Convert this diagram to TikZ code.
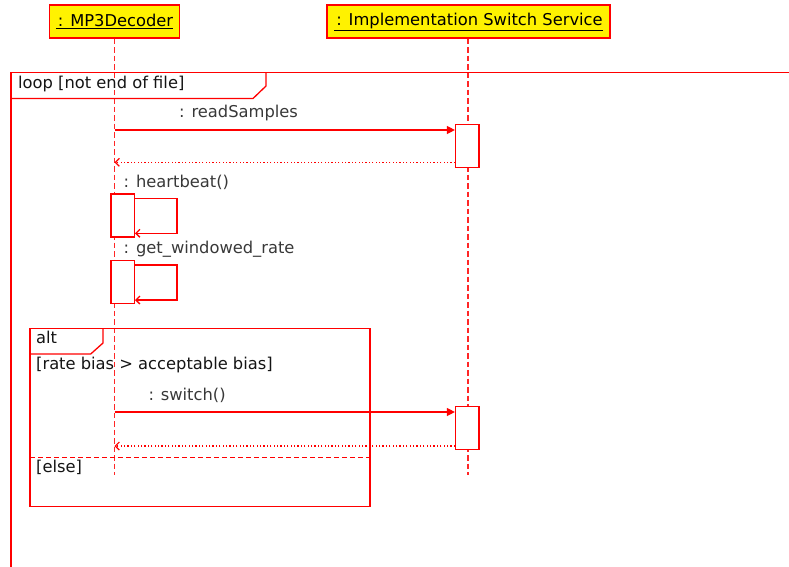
\documentclass[tikz,border=0pt]{standalone}
\usepackage{fontspec}
\setmainfont{DejaVu Sans}
\usetikzlibrary{arrows.meta}
\begin{document}
\begin{tikzpicture}[x=1pt,y=-1pt,
  font=\fontsize{16.3}{19}\selectfont,
  head/.style={draw=red, line width=1.4pt, fill=yellow, minimum height=33pt, inner sep=0pt, text=black},
  lifeline/.style={draw=red!85, line width=1.2pt, dash pattern=on 5.5pt off 3pt},
  act/.style={draw=red, fill=white, line width=1.3pt, minimum width=23.5pt, minimum height=43pt, inner sep=0pt},
  frame/.style={draw=red, line width=1.3pt},
  msg/.style={draw=red, line width=1.3pt, -{Triangle[length=8pt,width=8pt]}},
  reply/.style={draw=red, line width=1.2pt, dash pattern=on 1.2pt off 2.2pt, -{Straight Barb[length=4pt,width=8pt]}},
  selfmsg/.style={draw=red, line width=1.3pt, -{Straight Barb[length=4pt,width=8pt]}},
  lbl/.style={anchor=base west, inner sep=0pt, text=black!78},
  flbl/.style={anchor=base west, inner sep=0pt, text=black!92},
]
\useasboundingbox (0,0) rectangle (789,566);

% participants
\node[head, minimum width=130pt] (mp3) at (114.5,21.5) {\underline{\kern2pt: MP3Decoder}};
\node[head, minimum width=283pt] (iss) at (468.5,21.5) {\underline{\kern2pt: Implementation Switch Service}};

% lifelines
\coordinate (mp3end) at (mp3.south |- 0,475);
\coordinate (issend) at (468,475);
\draw[lifeline] (mp3.south) -- (mp3end);
\draw[lifeline] (iss.south -| issend) -- (issend);

% loop combined fragment
\draw[frame] (795,72.5) -- (11,72.5) -- (11,570);
\draw[frame] (11,98.5) -- (253,98.5) -- (266,86) -- (266,72.5);
\node[flbl] (looplbl) at (18,88) {loop [not end of file]};

% alt combined fragment
\draw[frame] (30,328.3) rectangle (370,506.7);
\draw[frame] (30,354) -- (90.7,354) -- (103,343) -- (103,328.3);
\draw[frame, dash pattern=on 5pt off 3pt] (30,457.3) -- (370,457.3);
\node[flbl] (altlbl) at (36,343.5) {alt};
\node[flbl] (guard1) at (36,369.5) {[rate bias > acceptable bias]};
\node[flbl] (guard2) at (36,472.5) {[else]};

% activations
\node[act] (r1) at (467.3,146.3) {};
\node[act] (r2) at (467.3,428.2) {};
\node[act] (h1) at (122.6,215.5) {};
\node[act] (h2) at (122.6,282.3) {};

% readSamples
\coordinate (c1) at (mp3.south |- 0,130);
\draw[msg] (c1) -- (c1 -| r1.west);
\node[lbl] (m1) at (179,117.3) {: readSamples};
\coordinate (c2) at (r1.west |- 0,162.3);
\draw[reply] (c2) -- (c2 -| mp3.south);

% heartbeat
\node[lbl] (m2) at (123.5,187.3) {: heartbeat()};
\coordinate (c3) at (h1.east |- 0,198.3);
\coordinate (c4) at (177,233.3);
\draw[selfmsg] (c3) -- (c3 -| c4) -- (c4) -- (c4 -| h1.east);

% get_windowed_rate
\node[lbl] (m3) at (123.5,253.3) {: get\_windowed\_rate};
\coordinate (c5) at (h2.east |- 0,265);
\coordinate (c6) at (177,300);
\draw[selfmsg] (c5) -- (c5 -| c6) -- (c6) -- (c6 -| h2.east);

% switch
\node[lbl] (m4) at (148.3,400) {: switch()};
\coordinate (c7) at (mp3.south |- 0,412);
\draw[msg] (c7) -- (c7 -| r2.west);
\coordinate (c8) at (r2.west |- 0,446);
\draw[reply] (c8) -- (c8 -| mp3.south);
\end{tikzpicture}
\end{document}
